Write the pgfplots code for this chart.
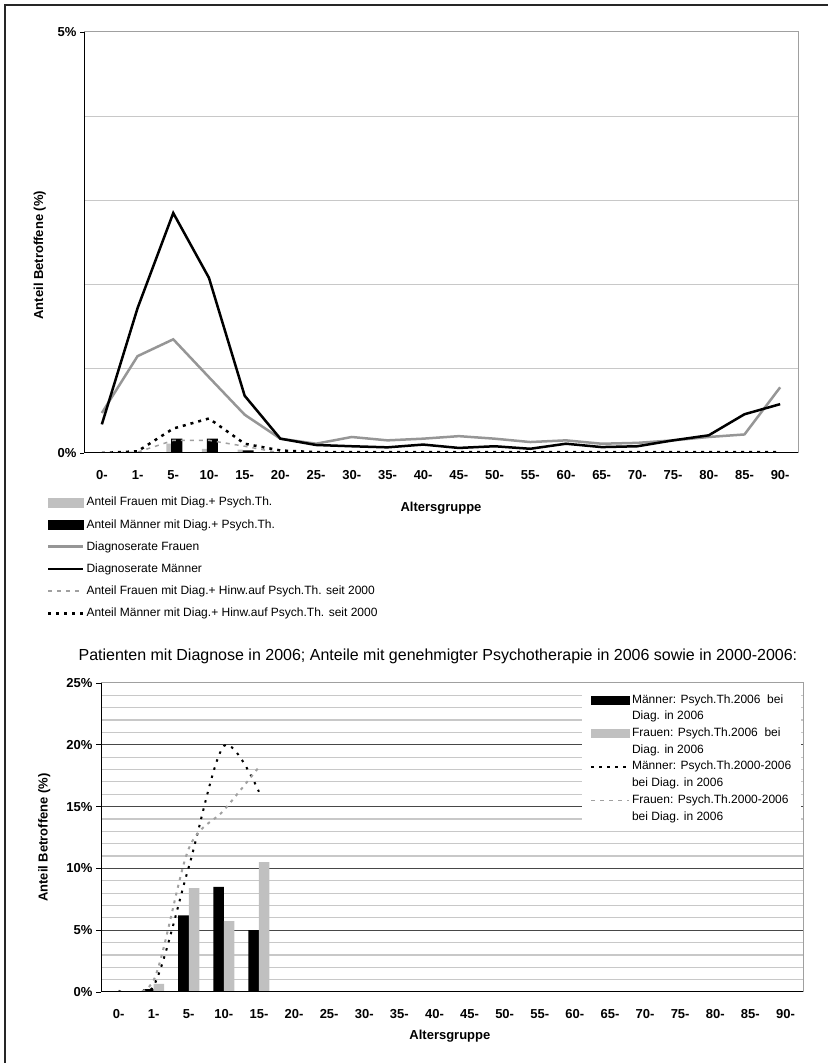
\documentclass[border=0pt]{standalone}
\usepackage{pgfplots}
\pgfplotsset{compat=1.18}
\usepackage{fontspec}
\setmainfont{Liberation Sans}

\definecolor{barG}{HTML}{C0C0C0}
\definecolor{lineG}{HTML}{969696}
\definecolor{dashG}{HTML}{A0A0A0}
\definecolor{gridG}{HTML}{C8C8C8}
\definecolor{frameG}{HTML}{A0A0A0}

\newcommand{\tickfont}{\fontsize{13bp}{15bp}\selectfont\bfseries}
\newcommand{\legfont}{\fontsize{12bp}{14.5bp}\selectfont}

\begin{document}
\begin{tikzpicture}[x=1bp,y=1bp]
\useasboundingbox (0,0) rectangle (828,1063);
\draw[line width=2bp, color=black!85] (5,0) -- (5,1058) -- (828,1058);

%================ TOP CHART =================
\begin{axis}[
  at={(84bp,610bp)}, anchor=south west,
  scale only axis, width=714bp, height=421bp,
  xmin=-0.5, xmax=19.5, ymin=0, ymax=5,
  xtick={0,...,19},
  xticklabels={0-,1-,5-,10-,15-,20-,25-,30-,35-,40-,45-,50-,55-,60-,65-,70-,75-,80-,85-,90-},
  ytick={0,5},
  yticklabels={0\%,5\%},
  minor ytick={1,2,3,4},
  tick pos=left,
  x tick style={draw=none},
  y tick style={black, line width=0.8bp},
  minor y tick style={draw=none},
  tick align=outside, major tick length=4bp,
  ymajorgrids, yminorgrids,
  major grid style={gridG, line width=1bp},
  minor grid style={gridG, line width=1bp},
  axis line style={frameG, line width=1bp},
  tick label style={font=\tickfont},
  xticklabel style={yshift=-10bp},
  xlabel={Altersgruppe},
  xlabel style={at={(0.5,-0.13)}, anchor=center, font=\tickfont},
  ylabel={Anteil Betroffene (\%)},
  ylabel style={at={(-0.062,0.47)}, anchor=center, font=\tickfont},
  legend style={at={(-0.052,-0.10)}, anchor=north west, draw=none, fill=none,
     font=\legfont, row sep=8bp, inner sep=0pt},
  legend cell align=left,
  after end axis/.code={\draw[black, line width=1bp] (rel axis cs:0,1) -- (rel axis cs:0,0) -- (rel axis cs:1,0);},
]
% bars
\addplot[ybar, bar width=0.14, bar shift=-0.126, fill=barG, draw=none, forget plot]
  coordinates {(2,0.11) (3,0.05) (4,0.04)};
\addplot[ybar, bar width=0.31, bar shift=0.098, fill=black, draw=none, forget plot]
  coordinates {(2,0.17) (3,0.17) (4,0.03) (5,0.01)};
% Diagnoserate Frauen
\addplot[lineG, line width=2.5bp, forget plot] coordinates {
(0,0.475) (1,1.15) (2,1.35) (3,0.90) (4,0.455) (5,0.17) (6,0.11) (7,0.19) (8,0.15) (9,0.17)
(10,0.20) (11,0.17) (12,0.13) (13,0.15) (14,0.11) (15,0.12) (16,0.15) (17,0.19) (18,0.22) (19,0.78)};
% Diagnoserate Maenner
\addplot[black, line width=2.5bp, forget plot] coordinates {
(0,0.34) (1,1.72) (2,2.85) (3,2.08) (4,0.68) (5,0.17) (6,0.095) (7,0.08) (8,0.067) (9,0.10)
(10,0.06) (11,0.08) (12,0.05) (13,0.11) (14,0.07) (15,0.08) (16,0.15) (17,0.21) (18,0.46) (19,0.58)};
% Hinw Frauen
\addplot[dashG, line width=1.5bp, dash pattern=on 4bp off 5bp, forget plot] coordinates {
(0,0) (1,0.01) (2,0.15) (3,0.15) (4,0.08) (5,0) (6,0) (7,0) (8,0) (9,0)
(10,0) (11,0) (12,0) (13,0) (14,0) (15,0) (16,0) (17,0) (18,0) (19,0)};
% Hinw Maenner
\addplot[black, line width=2.5bp, dash pattern=on 3bp off 5bp, forget plot] coordinates {
(0,0) (1,0.02) (2,0.29) (3,0.41) (4,0.11) (5,0.03) (6,0.01) (7,0.01) (8,0.01) (9,0.01)
(10,0.01) (11,0.01) (12,0.01) (13,0.01) (14,0.01) (15,0.01) (16,0.01) (17,0.01) (18,0.01) (19,0.01)};

\addlegendimage{legend image code/.code={\fill[barG] (0bp,-4.5bp) rectangle (35bp,4.5bp);}}
\addlegendentry{Anteil Frauen mit Diag.+ Psych.Th.}
\addlegendimage{legend image code/.code={\fill[black] (0bp,-4.5bp) rectangle (35bp,4.5bp);}}
\addlegendentry{Anteil Männer mit Diag.+ Psych.Th.}
\addlegendimage{legend image code/.code={\draw[lineG, line width=2.5bp] (0bp,0bp) -- (35bp,0bp);}}
\addlegendentry{Diagnoserate Frauen}
\addlegendimage{legend image code/.code={\draw[black, line width=2.5bp] (0bp,0bp) -- (35bp,0bp);}}
\addlegendentry{Diagnoserate Männer}
\addlegendimage{legend image code/.code={\draw[dashG, line width=1.5bp, dash pattern=on 4bp off 5bp] (0bp,0bp) -- (35bp,0bp);}}
\addlegendentry{Anteil Frauen mit Diag.+ Hinw.auf Psych.Th. seit 2000}
\addlegendimage{legend image code/.code={\draw[black, line width=2.5bp, dash pattern=on 3bp off 5bp] (0bp,0bp) -- (35bp,0bp);}}
\addlegendentry{Anteil Männer mit Diag.+ Hinw.auf Psych.Th. seit 2000}
\end{axis}

%================ BOTTOM CHART =================
\begin{axis}[
  at={(101bp,71bp)}, anchor=south west,
  scale only axis, width=702bp, height=309bp,
  xmin=-0.5, xmax=19.5, ymin=0, ymax=25,
  xtick={0,...,19},
  xticklabels={0-,1-,5-,10-,15-,20-,25-,30-,35-,40-,45-,50-,55-,60-,65-,70-,75-,80-,85-,90-},
  ytick={0,5,10,15,20,25},
  yticklabels={0\%,5\%,10\%,15\%,20\%,25\%},
  minor ytick={1,2,3,4,6,7,8,9,11,12,13,14,16,17,18,19,21,22,23,24},
  tick pos=left,
  x tick style={draw=none},
  y tick style={black, line width=0.8bp},
  minor y tick style={draw=none},
  tick align=outside, major tick length=5bp,
  ymajorgrids, yminorgrids,
  major grid style={black!72, line width=1bp},
  minor grid style={gridG, line width=1.2bp},
  axis line style={frameG, line width=1bp},
  tick label style={font=\tickfont},
  xticklabel style={yshift=-9bp},
  xlabel={Altersgruppe},
  xlabel style={at={(0.497,-0.142)}, anchor=center, font=\tickfont},
  ylabel={Anteil Betroffene (\%)},
  ylabel style={at={(-0.081,0.5)}, anchor=center, font=\tickfont},
  title={Patienten mit Diagnose in 2006; Anteile mit genehmigter Psychotherapie in 2006 sowie in 2000-2006:},
  title style={at={(0.48,1.068)}, anchor=center, font=\fontsize{16bp}{18bp}\selectfont},
  legend style={at={(0.685,1)}, anchor=north west, yshift=-4bp, draw=none, fill=white,
     font=\legfont, row sep=2.7bp, inner xsep=8bp, inner ysep=6bp,
     nodes={inner ysep=1bp, text height=9bp, text depth=3bp}},
  legend cell align=left,
  after end axis/.code={\draw[black, line width=1bp] (rel axis cs:0,1) -- (rel axis cs:0,0) -- (rel axis cs:1,0);},
]
\addplot[ybar, bar width=0.3, bar shift=-0.15, fill=black, draw=none, forget plot]
  coordinates {(1,0.24) (2,6.2) (3,8.5) (4,5.0)};
\addplot[ybar, bar width=0.3, bar shift=0.15, fill=barG, draw=none, forget plot]
  coordinates {(1,0.65) (2,8.4) (3,5.73) (4,10.5)};
% Maenner 2000-2006
\addplot[black, line width=2bp, dash pattern=on 2.5bp off 6bp, smooth, forget plot]
  coordinates {(0,0.1) (1,0.5) (2,10.1) (3,19.9) (4,16.2)};
\addplot[black, line width=2bp, dash pattern=on 2.5bp off 6bp, forget plot]
  coordinates {(8,0) (9,0) (10,0) (11,0)};
% Frauen 2000-2006
\addplot[dashG, line width=2bp, dash pattern=on 3bp off 5bp, smooth, forget plot]
  coordinates {(0,0.05) (1,0.95) (2,11.6) (3,14.7) (4,18.2)};
\addplot[dashG, line width=1.5bp, dash pattern=on 4bp off 5bp, forget plot]
  coordinates {(5,0) (6,0) (7,0) (8,0) (9,0) (10,0) (11,0) (12,0) (13,0) (14,0) (15,0) (16,0) (17,0) (18,0) (19,0)};

\addlegendimage{legend image code/.code={\fill[black] (0bp,-4bp) rectangle (38bp,4bp);}}
\addlegendentry{Männer: Psych.Th.2006\ \ bei}
\addlegendimage{empty legend}
\addlegendentry{Diag. in 2006}
\addlegendimage{legend image code/.code={\fill[barG] (0bp,-4bp) rectangle (38bp,4bp);}}
\addlegendentry{Frauen: Psych.Th.2006\ \ bei}
\addlegendimage{empty legend}
\addlegendentry{Diag. in 2006}
\addlegendimage{legend image code/.code={\draw[black, line width=2bp, dash pattern=on 3bp off 5bp] (0bp,0bp) -- (38bp,0bp);}}
\addlegendentry{Männer: Psych.Th.2000-2006}
\addlegendimage{empty legend}
\addlegendentry{bei Diag. in 2006}
\addlegendimage{legend image code/.code={\draw[dashG, line width=1.5bp, dash pattern=on 4bp off 5bp] (0bp,0bp) -- (38bp,0bp);}}
\addlegendentry{Frauen: Psych.Th.2000-2006}
\addlegendimage{empty legend}
\addlegendentry{bei Diag. in 2006\hspace*{12bp}}
\end{axis}
\end{tikzpicture}
\end{document}
